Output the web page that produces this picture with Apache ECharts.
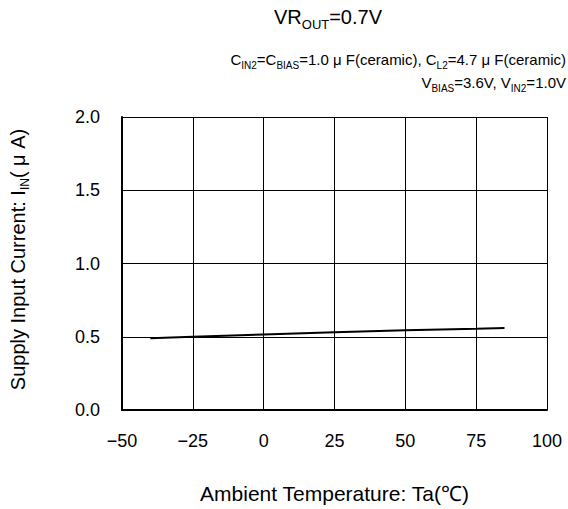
<!DOCTYPE html>
<html>
<head>
<meta charset="utf-8">
<script src="https://cdn.jsdelivr.net/npm/echarts@6/dist/echarts.min.js"></script>
<style>html,body{margin:0;padding:0;background:#fff}#chart{width:568px;height:509px}</style>
</head>
<body>
<div id="chart"></div>
<script>
var chart = echarts.init(document.getElementById('chart'), null, {renderer: 'svg'});

// Ta (°C) and supply input current (uA)
var temps = [-40, -25, 0, 25, 50, 75, 85];
var current = [0.49, 0.50, 0.515, 0.53, 0.545, 0.555, 0.56];
var xTicks = [-50, 100, 25];   // min, max, interval
var yTicks = [0, 2.0, 0.5];

var font = '"Liberation Sans", Arial, sans-serif';
var sub = {fontSize: 10, fontFamily: font, color: '#000', verticalAlign: 'bottom', padding: [0, 0, -3, 0]};

var option = {
    animation: false,
    backgroundColor: '#fff',
    title: [
        {
            text: 'VR{s|OUT}=0.7V',
            left: 328, top: 7, textAlign: 'center', padding: 0,
            textStyle: {fontSize: 20, fontWeight: 'normal', color: '#000', fontFamily: font,
                rich: {s: {fontSize: 13, fontFamily: font, color: '#000', verticalAlign: 'bottom', padding: [0, 0, -4, 0]}}}
        },
        {
            text: 'C{s|IN2}=C{s|BIAS}=1.0 μ F(ceramic), C{s|L2}=4.7 μ F(ceramic)',
            right: 2, top: 52, padding: 0,
            textStyle: {fontSize: 15, fontWeight: 'normal', color: '#000', fontFamily: font, rich: {s: sub}}
        },
        {
            text: 'V{s|BIAS}=3.6V, V{s|IN2}=1.0V',
            right: 2, top: 75, padding: 0,
            textStyle: {fontSize: 15, fontWeight: 'normal', color: '#000', fontFamily: font, rich: {s: sub}}
        }
    ],
    grid: {left: 122, right: 21, top: 117, bottom: 99},
    xAxis: {
        type: 'value',
        min: xTicks[0], max: xTicks[1], interval: xTicks[2],
        name: 'Ambient Temperature: Ta(℃)',
        nameLocation: 'middle', nameGap: 73,
        nameTextStyle: {fontSize: 21, color: '#000', fontFamily: font},
        axisLine: {onZero: false, lineStyle: {color: '#000', width: 2}},
        axisTick: {show: false},
        splitLine: {lineStyle: {color: '#000', width: 1}},
        axisLabel: {fontSize: 18, color: '#000', fontFamily: font, margin: 22,
            formatter: function (v) { return v < 0 ? '−' + Math.abs(v) : String(v); }}
    },
    yAxis: {
        type: 'value',
        min: yTicks[0], max: yTicks[1], interval: yTicks[2],
        name: 'Supply Input Current: I{s|IN}( μ A)',
        nameLocation: 'middle', nameGap: 94,
        nameTextStyle: {fontSize: 20, color: '#000', fontFamily: font, padding: [0, 0, 0, 8],
            rich: {s: {fontSize: 12, fontFamily: font, color: '#000', verticalAlign: 'bottom', padding: [0, 0, -3, 0]}}},
        axisLine: {show: true, onZero: false, lineStyle: {color: '#000', width: 2}},
        axisTick: {show: false},
        splitLine: {lineStyle: {color: '#000', width: 1}},
        axisLabel: {fontSize: 18, color: '#000', fontFamily: font, margin: 22,
            formatter: function (v) { return v.toFixed(1); }}
    },
    series: [{
        type: 'line',
        data: temps.map(function (t, i) { return [t, current[i]]; }),
        showSymbol: false,
        lineStyle: {color: '#000', width: 2}
    }]
};

chart.setOption(option);
</script>
</body>
</html>
